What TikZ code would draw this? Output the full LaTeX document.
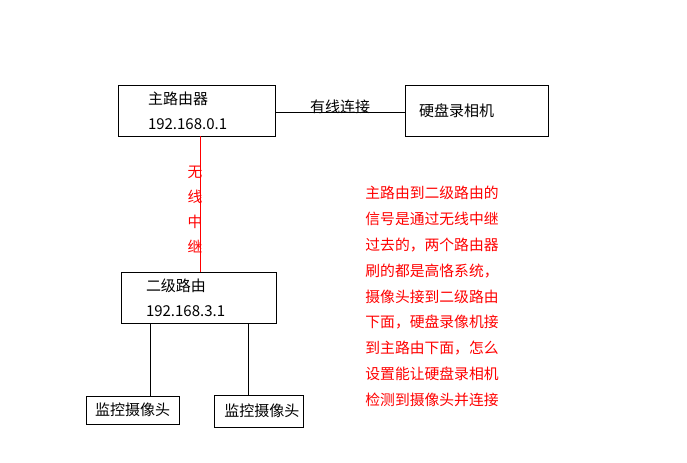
\documentclass[tikz,border=0pt]{standalone}
\usepackage{fontspec}
\setmainfont{Noto Sans CJK SC}
\begin{document}
\begin{tikzpicture}[x=0.75pt, y=-0.75pt, line width=0.6pt,
    box/.style={draw, align=left, inner ysep=0pt, minimum height=38.25pt, font=\fontsize{11.25}{19}\selectfont},
    cam/.style={draw, inner sep=0pt, font=\fontsize{11.25}{19}\selectfont},
    note/.style={red, inner sep=0pt, align=left, font=\fontsize{11.1}{19.4}\selectfont}]
    \useasboundingbox (0,0) rectangle (687,463);

    \node (main) [box, text width=72.75pt, inner xsep=22.5pt] at (196.5,110.5) {主路由器\\192.168.0.1};
    \node (recorder) [box, text width=86.25pt, inner xsep=10.5pt] at (476.5,110.5) {硬盘录相机};
    \node (sub) [box, text width=78.75pt, inner xsep=18.75pt] at (198.5,297.5) {二级路由\\192.168.3.1};
    \node (cam1) [cam, minimum width=69.75pt, minimum height=21pt] at (132.5,410) {监控摄像头};
    \node (cam2) [cam, text width=61.15pt, align=right, inner xsep=2.8pt, minimum height=24pt] at (258.5,411) {监控摄像头};

    \node (relay) [note, align=center, font=\fontsize{11.1}{18.75}\selectfont] at (195,209.5) {无\\线\\中\\继};
    \node (question) [note, anchor=west] at (365,296.5) {主路由到二级路由的\\信号是通过无线中继\\过去的，两个路由器\\刷的都是高恪系统，\\摄像头接到二级路由\\下面，硬盘录像机接\\到主路由下面，怎么\\设置能让硬盘录相机\\检测到摄像头并连接};

    \draw ([yshift=-1.1pt]main.east) -- node [midway, yshift=3.7pt, inner sep=0pt, font=\fontsize{11.25}{19}\selectfont] {有线连接} ([yshift=-1.1pt]recorder.west);
    \draw [red] ([xshift=1.1pt]main.south -| sub.north) -- ([xshift=1.1pt]sub.north);
    \draw ([xshift=13.125pt]cam1.north) -- ([xshift=13.125pt]cam1.north |- sub.south);
    \draw ([xshift=-7.875pt]cam2.north) -- ([xshift=-7.875pt]cam2.north |- sub.south);
\end{tikzpicture}
\end{document}
